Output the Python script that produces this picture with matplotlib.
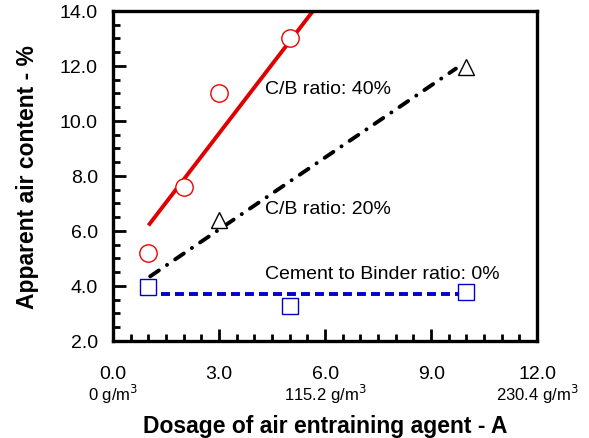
import matplotlib
matplotlib.use("Agg")
import matplotlib.pyplot as plt
from matplotlib.ticker import MultipleLocator

plt.rcParams["font.family"] = ["Liberation Sans", "DejaVu Sans"]

# measured points
cb40_x = [1.0, 2.0, 3.0, 5.0]
cb40_y = [5.2, 7.6, 11.0, 13.0]
cb20_x = [3.0, 10.0]
cb20_y = [6.4, 11.95]
cb0_x = [1.0, 5.0, 10.0]
cb0_y = [3.97, 3.28, 3.77]

# trend lines (end points)
fit40_x = [1.0, 5.66]
fit40_y = [6.2, 14.0]
fit20_x = [1.05, 9.7]
fit20_y = [4.35, 11.9]
fit0_x = [0.95, 10.0]
fit0_y = [3.7, 3.7]

xticks = [0.0, 3.0, 6.0, 9.0, 12.0]
yticks = [2.0, 4.0, 6.0, 8.0, 10.0, 12.0, 14.0]
dose_x = [0.0, 6.0, 12.0]
dose_labels = ["0 g/m$^3$", "115.2 g/m$^3$", "230.4 g/m$^3$"]

fig = plt.figure(figsize=(5.89, 4.39), dpi=100)
ax = fig.add_axes([0.192, 0.221, 0.72, 0.752])

ax.plot(fit40_x, fit40_y, color="#e00000", lw=2.8, solid_capstyle="butt", zorder=2)
ax.plot(fit20_x, fit20_y, color="black", lw=2.8, dashes=(2.7, 2.5, 0.05, 2.5),
        dash_capstyle="round", zorder=2)
ax.plot(fit0_x, fit0_y, color="#0000cc", lw=2.8, dashes=(2.3, 1.3), zorder=2)

ax.plot(cb40_x, cb40_y, "o", ms=12.5, mfc="white", mec="#ee0000", mew=1.0, zorder=3)
ax.plot(cb20_x, cb20_y, "^", ms=12, mfc="white", mec="black", mew=1.0, zorder=3)
ax.plot(cb0_x, cb0_y, "s", ms=12, mfc="white", mec="#0000cc", mew=1.0, zorder=3)

ax.text(4.3, 11.16, "C/B ratio: 40%", fontsize=14, va="center")
ax.text(4.3, 6.8, "C/B ratio: 20%", fontsize=14, va="center")
ax.text(4.3, 4.44, "Cement to Binder ratio: 0%", fontsize=14, va="center")

ax.set_xlim(0, 12)
ax.set_ylim(2, 14)
ax.set_xticks(xticks)
ax.set_xticklabels([f"{v:.1f}" for v in xticks])
ax.set_yticks(yticks)
ax.set_yticklabels([f"{v:.1f}" for v in yticks])
ax.xaxis.set_minor_locator(MultipleLocator(0.5))
ax.yaxis.set_minor_locator(MultipleLocator(0.5))
ax.tick_params(which="both", direction="in", top=False, right=False, width=2, labelsize=14)
ax.tick_params(which="major", length=9)
ax.tick_params(which="minor", length=5)
ax.tick_params(axis="x", which="major", pad=17)
ax.tick_params(axis="y", which="major", pad=11)
for s in ax.spines.values():
    s.set_linewidth(2.4)

for x, lab in zip(dose_x, dose_labels):
    ax.text(x, -0.16, lab, transform=ax.get_xaxis_transform(), ha="center", va="center", fontsize=12)

ax.set_xlabel("Dosage of air entraining agent - A", fontsize=16.5, fontweight="bold", labelpad=23)
ax.set_ylabel("Apparent air content - %", fontsize=16.5, fontweight="bold", labelpad=15)

fig.savefig("out.png", dpi=100)
